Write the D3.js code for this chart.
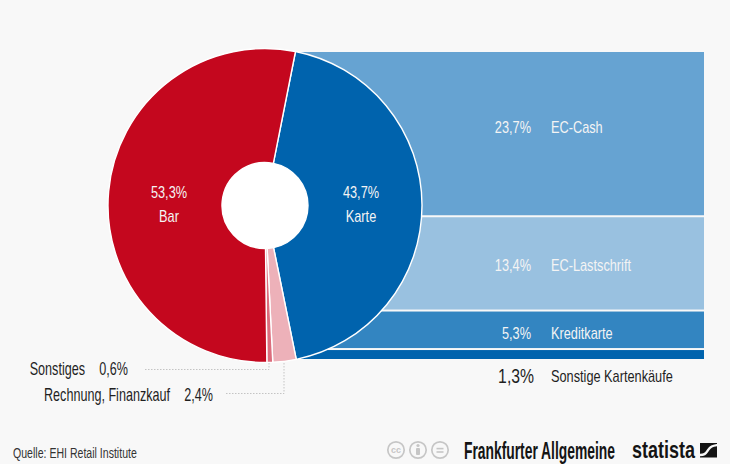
<!DOCTYPE html>
<html lang="de">
<head>
<meta charset="utf-8">
<script src="https://cdn.jsdelivr.net/npm/d3@7"></script>
<style>
  html, body { margin: 0; padding: 0; background: #f8f8f8; }
  svg { display: block; }
  text { font-family: "Liberation Sans", sans-serif; }
</style>
</head>
<body>
<svg id="chart" width="730" height="464"></svg>
<script>
// Zahlungsarten im Einzelhandel: Anteile am Umsatz in Prozent
const mainLabels = ["Karte", "Rechnung, Finanzkauf", "Sonstiges", "Bar"];
const mainValues = [43.7, 2.4, 0.6, 53.3];
const mainColors = ["#0063ad", "#edb1b9", "#dc6d7d", "#c4071e"];

const cardLabels = ["EC-Cash", "EC-Lastschrift", "Kreditkarte", "Sonstige Kartenkäufe"];
const cardValues = [23.7, 13.4, 5.3, 1.3];
const cardColors = ["#66a3d2", "#99c1e0", "#3385c1", "#0063ad"];

const decimal = v => d3.format(".1f")(v).replace(".", ",") + "%";
const svg = d3.select("#chart");
const ink = "#1f1f1f";
const pale = "#f4f4f4";

// Schmal laufender Text: die Schrift wird horizontal gestaucht
function label(x, y, str, opts = {}) {
  const { size = 17, squeeze = 0.75, anchor = "start", fill = ink } = opts;
  return svg.append("text")
    .attr("transform", `translate(${x},${y}) scale(${squeeze},1)`)
    .attr("text-anchor", anchor)
    .attr("font-size", size)
    .attr("fill", fill)
    .text(str);
}

// Gestapelte Balken für die Aufschlüsselung der Kartenzahlungen
const barTop = 52, barBottom = 359, barGap = 2, barLeft = 265, barRight = 704;
const barH = d3.scaleLinear()
  .domain([0, d3.sum(cardValues)])
  .range([0, barBottom - barTop - barGap * (cardValues.length - 1)]);
const cumulative = [0, ...d3.cumsum(cardValues)];
const barY = i => barTop + barH(cumulative[i]) + i * barGap;

svg.append("g").selectAll("rect")
  .data(cardValues)
  .join("rect")
  .attr("x", barLeft)
  .attr("width", barRight - barLeft)
  .attr("y", (d, i) => barY(i))
  .attr("height", d => barH(d))
  .attr("fill", (d, i) => cardColors[i]);

// Ringdiagramm, im Uhrzeigersinn ab dem Beginn des Kartensegments
const cx = 265, cy = 205.5, outerR = 157, innerR = 43;
const startAngle = 11.2 * Math.PI / 180;
const pie = d3.pie().sort(null).startAngle(startAngle).endAngle(startAngle + 2 * Math.PI);
const arc = d3.arc().innerRadius(innerR).outerRadius(outerR);

const ring = svg.append("g").attr("transform", `translate(${cx},${cy})`);
ring.selectAll("path")
  .data(pie(mainValues))
  .join("path")
  .attr("d", arc)
  .attr("fill", (d, i) => mainColors[i])
  .attr("stroke", "#ffffff")
  .attr("stroke-width", 1.4)
  .attr("stroke-linejoin", "round");
ring.append("circle").attr("r", innerR).attr("fill", "#ffffff");

// Beschriftungen im Ring
[[3, 169], [0, 361]].forEach(([i, x]) => {
  label(x, 198, decimal(mainValues[i]), { anchor: "middle", fill: pale });
  label(x, 222, mainLabels[i], { anchor: "middle", fill: pale });
});

// Beschriftungen der Balken
[133, 271, 339].forEach((y, i) => {
  label(531, y, decimal(cardValues[i]), { anchor: "end", fill: pale });
  label(551, y, cardLabels[i], { fill: pale });
});
label(534, 382.5, decimal(cardValues[3]), { anchor: "end", size: 21 });
label(551, 382, cardLabels[3]);

// Beschriftungen der kleinen Segmente mit gepunkteten Führungslinien
label(85, 375, mainLabels[2], { anchor: "end", size: 17.5, squeeze: 0.72 });
label(128, 375, decimal(mainValues[2]), { anchor: "end", size: 17.5, squeeze: 0.72 });
label(170, 401, mainLabels[1], { anchor: "end", size: 17.5, squeeze: 0.72 });
label(213, 401, decimal(mainValues[1]), { anchor: "end", size: 17.5, squeeze: 0.72 });

const leader = d3.line();
[[[145, 369.5], [269, 369.5], [269, 363]], [[226, 393.5], [284, 393.5], [284, 363]]].forEach(pts => {
  svg.append("path").attr("d", leader(pts)).attr("fill", "none")
    .attr("stroke", "#c4c4c4").attr("stroke-width", 1).attr("stroke-dasharray", "1.5 1.5");
});

// Quelle
label(13, 458, "Quelle: EHI Retail Institute", { size: 14, squeeze: 0.755, fill: "#333333" });

// Lizenzsymbole: CC, Namensnennung, keine Bearbeitung
const iconGrey = "#c6c6c6";
const icons = svg.append("g").attr("fill", "none").attr("stroke", iconGrey).attr("stroke-width", 1.7);
[396, 418, 440].forEach(x => icons.append("circle").attr("cx", x).attr("cy", 450).attr("r", 8.2));
svg.append("text").attr("x", 396).attr("y", 453).attr("text-anchor", "middle")
  .attr("font-size", 9).attr("font-weight", "bold").attr("fill", iconGrey).text("cc");
svg.append("circle").attr("cx", 418).attr("cy", 445.5).attr("r", 1.6).attr("fill", iconGrey);
svg.append("rect").attr("x", 416).attr("y", 448).attr("width", 4).attr("height", 7).attr("rx", 1).attr("fill", iconGrey);
[447.8, 451.2].forEach(y => svg.append("rect").attr("x", 436.5).attr("y", y).attr("width", 7).attr("height", 1.6).attr("fill", iconGrey));

// Wortmarken, auf feste Breite gebracht
function wordmark(x, y, width, str, family, size) {
  const t = svg.append("text")
    .attr("font-family", family).attr("font-weight", "bold")
    .attr("font-size", size).attr("fill", "#141414").text(str);
  const k = width / t.node().getComputedTextLength();
  t.attr("transform", `translate(${x},${y}) scale(${k},1)`);
}
wordmark(464, 459, 151, "Frankfurter Allgemeine", "Liberation Serif, serif", 23);
wordmark(632, 458, 63, "statista", "Roboto, sans-serif", 23);

// Statista-Bildmarke: schwarzes Feld mit weißem Schwung
svg.append("rect").attr("x", 700).attr("y", 443).attr("width", 17).attr("height", 14.5).attr("fill", "#141414");
svg.append("path")
  .attr("d", d3.line().curve(d3.curveBasis)([[699, 455], [705, 455], [708, 450], [711, 446], [718, 445]]))
  .attr("fill", "none").attr("stroke", "#f8f8f8").attr("stroke-width", 2.4);
</script>
</body>
</html>
